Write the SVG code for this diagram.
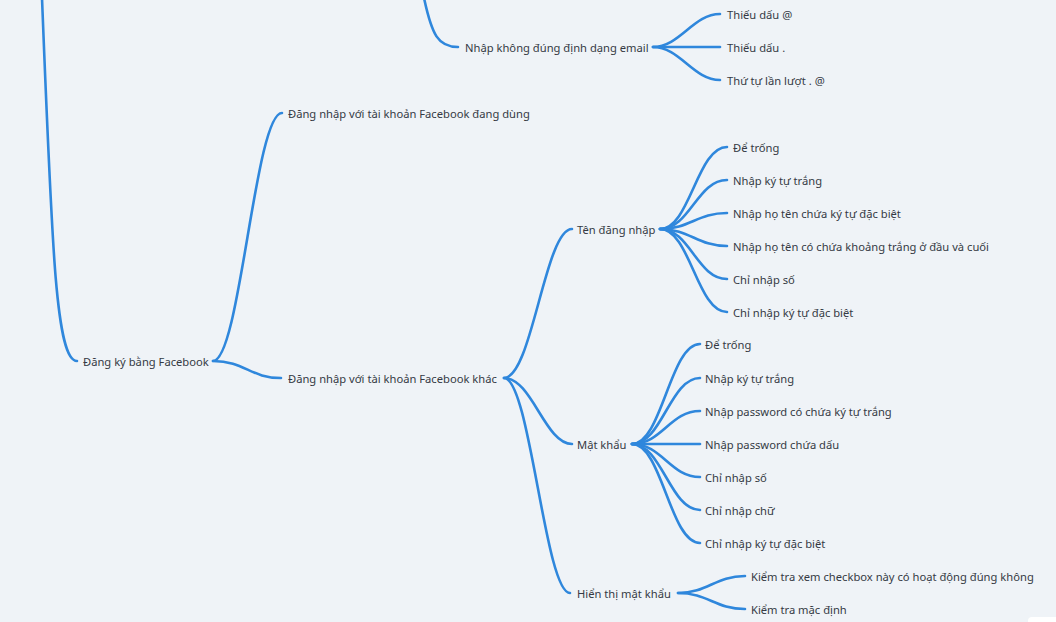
<svg xmlns="http://www.w3.org/2000/svg" width="1056" height="622" viewBox="0 0 1056 622">
<style>
.bg{fill:#eff3f7}
.c path{fill:none;stroke:#2f87dc;stroke-width:2.6;stroke-linecap:round}
text{font-family:"Noto Sans",Roboto,"Liberation Sans",sans-serif;font-size:11.2px;fill:#353a44}
</style>
<rect class="bg" x="0" y="0" width="1056" height="622"/>
<g class="c" id="connectors">
<path d="M42,-2 C52,250 56,361 77,361"/>
<path d="M424,-2 C432,35 438,47 458,47"/>
<path d="M653,47 C680,47 693,14 720,14"/>
<path d="M653,47 L720,47"/>
<path d="M653,47 C680,47 693,80 720,80"/>
<path d="M213,361 C240,361 255,113 282,113"/>
<path d="M213,361 C245,361 250,378 281,378"/>
<path d="M504,378 C532,378 545,229 572,229"/>
<path d="M504,378 C532,378 545,444 572,444"/>
<path d="M504,378 C530,378 545,593 570,593"/>
<path d="M660,229 C690,229 697,147 727,147"/>
<path d="M660,229 C690,229 697,180 727,180"/>
<path d="M660,229 C690,229 697,213 727,213"/>
<path d="M660,229 C690,229 697,246 727,246"/>
<path d="M660,229 C690,229 697,279 727,279"/>
<path d="M660,229 C690,229 697,312 727,312"/>
<path d="M632,444 C662,444 670,344 700,344"/>
<path d="M632,444 C662,444 670,378 700,378"/>
<path d="M632,444 C662,444 670,411 700,411"/>
<path d="M632,444 L700,444"/>
<path d="M632,444 C662,444 670,477 700,477"/>
<path d="M632,444 C662,444 670,510 700,510"/>
<path d="M632,444 C662,444 670,543 700,543"/>
<path d="M678,593 C708,593 715,576 745,576"/>
<path d="M678,593 C708,593 715,609 745,609"/>
</g>
<g id="n-email"><text x="465" y="51.5">Nhập không đúng định dạng email</text></g>
<g id="n-email-1"><text x="727" y="18.5">Thiếu dấu @</text></g>
<g id="n-email-2"><text x="727" y="51.5">Thiếu dấu .</text></g>
<g id="n-email-3"><text x="727" y="84.5">Thứ tự lần lượt . @</text></g>
<g id="n-dangky"><text x="83" y="365.5">Đăng ký bằng Facebook</text></g>
<g id="n-dangdung"><text x="288" y="117.5">Đăng nhập với tài khoản Facebook đang dùng</text></g>
<g id="n-khac"><text x="288" y="382.5">Đăng nhập với tài khoản Facebook khác</text></g>
<g id="n-ten"><text x="577" y="233.5">Tên đăng nhập</text></g>
<g id="n-ten-1"><text x="733" y="151.5">Để trống</text></g>
<g id="n-ten-2"><text x="733" y="184.5">Nhập ký tự trắng</text></g>
<g id="n-ten-3"><text x="733" y="217.5">Nhập họ tên chứa ký tự đặc biệt</text></g>
<g id="n-ten-4"><text x="733" y="250.5">Nhập họ tên có chứa khoảng trắng ở đầu và cuối</text></g>
<g id="n-ten-5"><text x="733" y="283.5">Chỉ nhập số</text></g>
<g id="n-ten-6"><text x="733" y="316.5">Chỉ nhập ký tự đặc biệt</text></g>
<g id="n-mk"><text x="577" y="448.5">Mật khẩu</text></g>
<g id="n-mk-1"><text x="705" y="348.5">Để trống</text></g>
<g id="n-mk-2"><text x="705" y="382.5">Nhập ký tự trắng</text></g>
<g id="n-mk-3"><text x="705" y="415.5">Nhập password có chứa ký tự trắng</text></g>
<g id="n-mk-4"><text x="705" y="448.5">Nhập password chứa dấu</text></g>
<g id="n-mk-5"><text x="705" y="481.5">Chỉ nhập số</text></g>
<g id="n-mk-6"><text x="705" y="514.5">Chỉ nhập chữ</text></g>
<g id="n-mk-7"><text x="705" y="547.5">Chỉ nhập ký tự đặc biệt</text></g>
<g id="n-ht"><text x="577" y="597.5">Hiển thị mật khẩu</text></g>
<g id="n-ht-1"><text x="751" y="580.5">Kiểm tra xem checkbox này có hoạt động đúng không</text></g>
<g id="n-ht-2"><text x="751" y="613.5">Kiểm tra mặc định</text></g>
<rect x="1028" y="617" width="40" height="20" rx="4" fill="#ffffff"/>
</svg>
